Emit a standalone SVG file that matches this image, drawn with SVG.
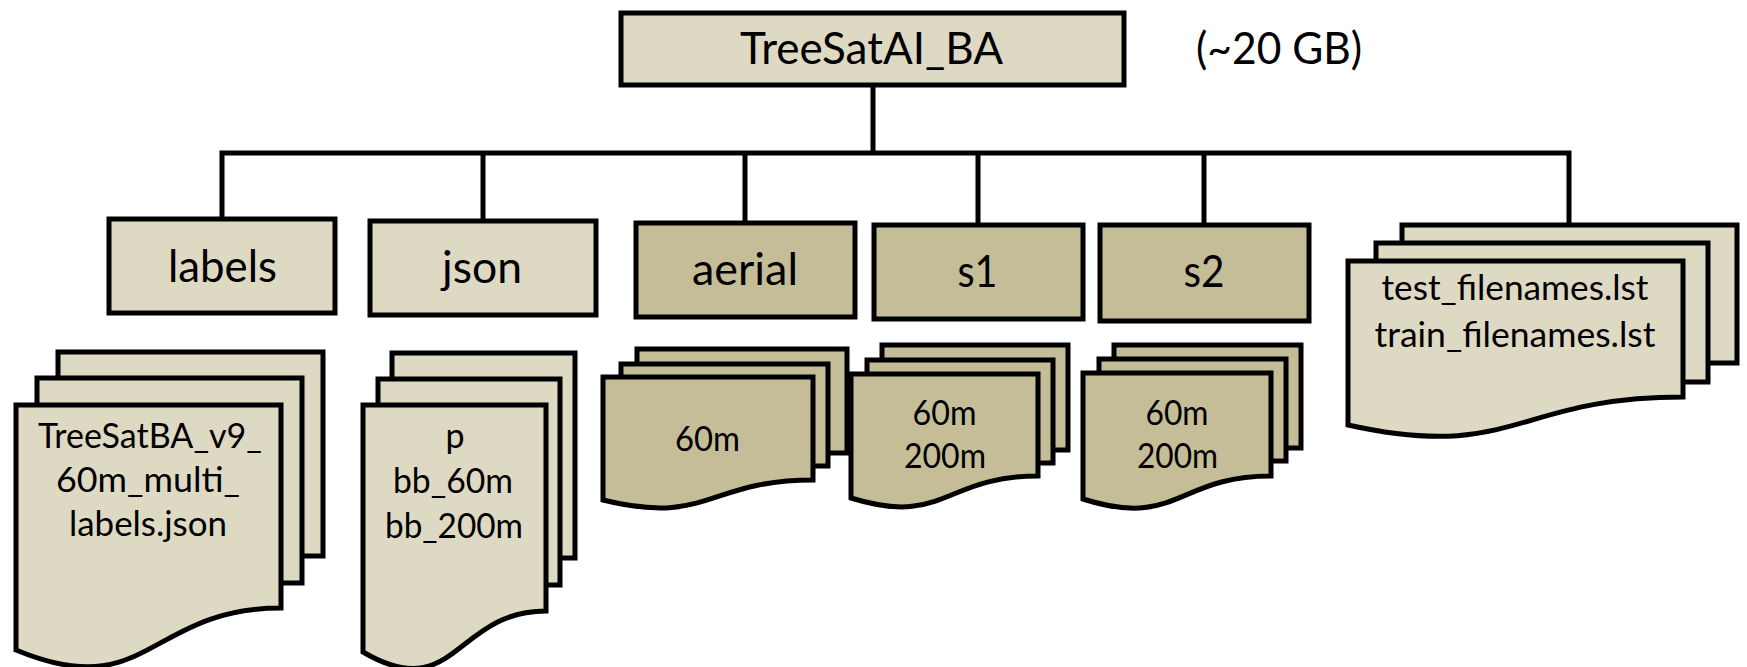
<svg xmlns="http://www.w3.org/2000/svg" width="1747" height="667" viewBox="0 0 1747 667">
<style>
.c{fill:none;stroke:#000;stroke-width:5;stroke-linejoin:miter}
.lt{fill:#DDD9C3;stroke:#000;stroke-width:5;stroke-linejoin:miter}
.dk{fill:#C4BD97;stroke:#000;stroke-width:5;stroke-linejoin:miter}
text{font-family:Lato,"Liberation Sans",sans-serif;fill:#000;text-anchor:middle}
.big{font-size:44px}
.doc{font-size:34px}
</style>
<rect width="1747" height="667" fill="#fff"/>
<g id="connectors">
<path class="c" d="M873,86 V153"/>
<path class="c" d="M222,219 V153 H1569 V225"/>
<path class="c" d="M483,153 V221"/>
<path class="c" d="M745,153 V223"/>
<path class="c" d="M978,153 V225"/>
<path class="c" d="M1204,153 V225"/>
</g>
<g id="root">
<rect class="lt" x="621" y="13" width="503" height="72"/>
<text class="big" x="871.5" y="64" textLength="263" lengthAdjust="spacingAndGlyphs">TreeSatAI_BA</text>
</g>
<g id="size-note">
<text class="big" x="1196" y="64" style="text-anchor:start" textLength="166" lengthAdjust="spacingAndGlyphs">(~20 GB)</text>
</g>
<g id="labels">
<rect class="lt" x="109" y="219" width="226" height="94"/>
<text class="big" x="222.5" y="282" textLength="109" lengthAdjust="spacingAndGlyphs">labels</text>
</g>
<g id="json">
<rect class="lt" x="370" y="221" width="226" height="94"/>
<text class="big" x="482" y="283" textLength="80" lengthAdjust="spacingAndGlyphs">json</text>
</g>
<g id="aerial">
<rect class="dk" x="636" y="223" width="219" height="94"/>
<text class="big" x="745" y="285" textLength="106" lengthAdjust="spacingAndGlyphs">aerial</text>
</g>
<g id="s1">
<rect class="dk" x="874" y="225" width="209" height="94"/>
<text class="big" x="977.5" y="287" textLength="40" lengthAdjust="spacingAndGlyphs">s1</text>
</g>
<g id="s2">
<rect class="dk" x="1100" y="225" width="209" height="96"/>
<text class="big" x="1204" y="287" textLength="41" lengthAdjust="spacingAndGlyphs">s2</text>
</g>
<g id="filelists">
<rect class="lt" x="1402" y="225" width="335" height="138"/>
<rect class="lt" x="1376" y="243" width="332" height="139"/>
<path class="lt" d="M1348,261 H1683 V397 C1515,397 1515,462 1348,425 Z"/>
<text class="doc" x="1515" y="300" textLength="267" lengthAdjust="spacingAndGlyphs">test_filenames.lst</text>
<text class="doc" x="1515" y="347" textLength="281" lengthAdjust="spacingAndGlyphs">train_filenames.lst</text>
</g>
<g id="labels-files">
<rect class="lt" x="58" y="352" width="265" height="204"/>
<rect class="lt" x="37" y="378" width="265" height="205"/>
<path class="lt" d="M16,405 H281 V608 C148,608 148,705 16,650 Z"/>
<text class="doc" x="150" y="448" textLength="224" lengthAdjust="spacingAndGlyphs">TreeSatBA_v9_</text>
<text class="doc" x="148" y="492" textLength="184" lengthAdjust="spacingAndGlyphs">60m_multi_</text>
<text class="doc" x="148" y="536" textLength="158" lengthAdjust="spacingAndGlyphs">labels.json</text>
</g>
<g id="json-files">
<rect class="lt" x="392" y="353" width="183" height="205"/>
<rect class="lt" x="378" y="379" width="182" height="206"/>
<path class="lt" d="M363,405 H546 V611 C455,611 455,706 363,652 Z"/>
<text class="doc" x="455" y="448">p</text>
<text class="doc" x="453" y="493" textLength="120" lengthAdjust="spacingAndGlyphs">bb_60m</text>
<text class="doc" x="454" y="538" textLength="138" lengthAdjust="spacingAndGlyphs">bb_200m</text>
</g>
<g id="aerial-files">
<rect class="dk" x="637" y="349" width="210" height="104"/>
<rect class="dk" x="621" y="364" width="207" height="102"/>
<path class="dk" d="M603,377 H813 V480 C708,480 708,526 603,500 Z"/>
<text class="doc" x="707.5" y="451" textLength="65" lengthAdjust="spacingAndGlyphs">60m</text>
</g>
<g id="s1-files">
<rect class="dk" x="882" y="345" width="186" height="105"/>
<rect class="dk" x="867" y="360" width="186" height="103"/>
<path class="dk" d="M851,374 H1038 V476 C944,476 944,527 851,498 Z"/>
<text class="doc" x="944.5" y="425" textLength="64" lengthAdjust="spacingAndGlyphs">60m</text>
<text class="doc" x="945" y="468" textLength="82" lengthAdjust="spacingAndGlyphs">200m</text>
</g>
<g id="s2-files">
<rect class="dk" x="1114" y="345" width="187" height="103"/>
<rect class="dk" x="1099" y="359" width="187" height="102"/>
<path class="dk" d="M1083,373 H1271 V476 C1177,476 1177,529 1083,499 Z"/>
<text class="doc" x="1177" y="425" textLength="63" lengthAdjust="spacingAndGlyphs">60m</text>
<text class="doc" x="1177.5" y="468" textLength="81" lengthAdjust="spacingAndGlyphs">200m</text>
</g>
</svg>
